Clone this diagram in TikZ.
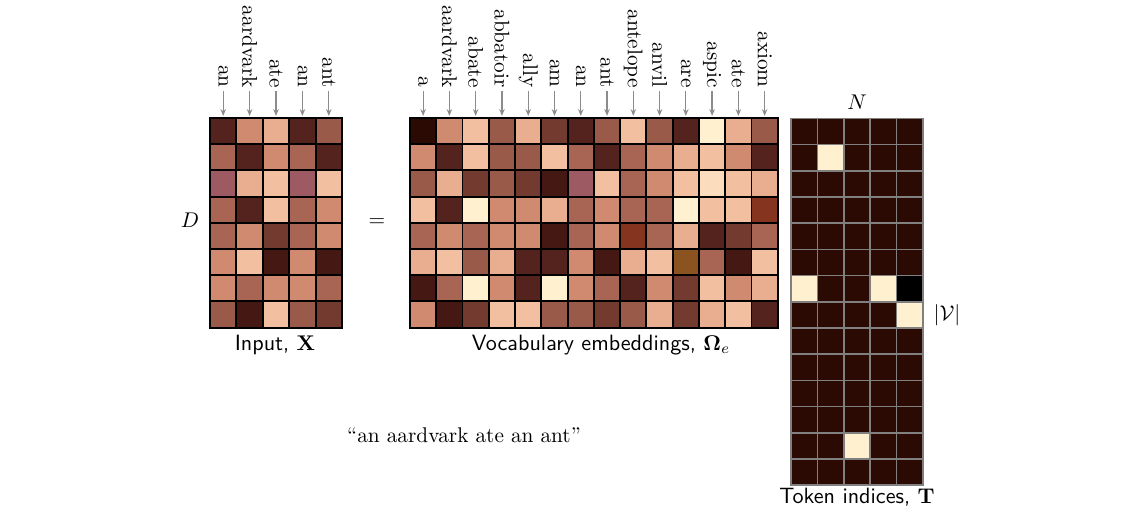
\documentclass[tikz,border=0pt]{standalone}
\usepackage[no-math]{fontspec}
\usepackage{amsmath}
\usetikzlibrary{arrows.meta}
\definecolor{k0}{HTML}{2B0A03}
\definecolor{k1}{HTML}{451814}
\definecolor{k2}{HTML}{55231D}
\definecolor{k3}{HTML}{733A30}
\definecolor{k4}{HTML}{9A5A4A}
\definecolor{k5}{HTML}{A86554}
\definecolor{k6}{HTML}{D08A70}
\definecolor{k7}{HTML}{E9AD8F}
\definecolor{k8}{HTML}{F2C0A0}
\definecolor{k9}{HTML}{FFF0D0}
\definecolor{kp}{HTML}{9E5A62}
\definecolor{kr}{HTML}{84341F}
\definecolor{kg}{HTML}{8B5320}
\definecolor{kl}{HTML}{FBDCBC}
\definecolor{tokgrid}{HTML}{808080}
\definecolor{arrgray}{HTML}{8C8C8C}
\begin{document}
\begin{tikzpicture}[x=0.47pt,y=-0.47pt,
  cell/.style={draw=black,line width=0.9pt,minimum width=12.36pt,minimum height=12.31pt,inner sep=0pt,outer sep=0pt},
  tcell/.style={draw=tokgrid,line width=0.75pt,minimum width=12.4pt,minimum height=12.3pt,inner sep=0pt,outer sep=0pt},
  lab/.style={rotate=-90,anchor=east,inner sep=0pt},
  arr/.style={draw=arrgray,line width=0.6pt,-{Stealth[length=3.2pt,width=2.6pt]},shorten <=1.5pt,shorten >=1pt},
  captext/.style={inner sep=1pt,font=\fontsize{10.4}{12.5}\selectfont}]
\useasboundingbox (0,0) rectangle (1139,510);
% vocabulary embeddings
\foreach \c [count=\i] in {
 {k0,k6,k4,k8,k5,k7,k1,k6},
 {k6,k2,k7,k2,k6,k8,k5,k1},
 {k8,k8,k3,k9,k5,k4,k9,k3},
 {k4,k4,k4,k6,k6,k7,k6,k8},
 {k7,k4,k3,k6,k6,k2,k2,k8},
 {k3,k8,k1,k7,k1,k2,k9,k4},
 {k2,k5,kp,k5,k5,k6,k6,k4},
 {k4,k2,k8,k6,k6,k1,k5,k3},
 {k8,k5,k5,k5,kr,k7,k2,k4},
 {k4,k6,k6,k5,k5,k8,k6,k7},
 {k2,k7,k8,k9,k7,kg,k3,k3},
 {k9,k8,kl,k8,k2,k5,k8,k7},
 {k7,k6,k8,k8,k3,k1,k6,k8},
 {k4,k2,k7,kr,k5,k8,k7,k2}}{
  \foreach \col [count=\j] in \c {
    \node[cell,fill=\col] (v-\j-\i) at ({410+(\i-0.5)*26.27},{118+(\j-0.5)*26.2}) {};
  }
}
% input
\foreach \c [count=\i] in {
 {k2,k5,kp,k5,k5,k6,k6,k4},
 {k6,k2,k7,k2,k6,k8,k5,k1},
 {k7,k6,k8,k8,k3,k1,k6,k8},
 {k2,k5,kp,k5,k5,k6,k6,k4},
 {k4,k2,k8,k6,k6,k1,k5,k3}}{
  \foreach \col [count=\j] in \c {
    \node[cell,fill=\col] (x-\j-\i) at ({210+(\i-0.5)*26.4},{118+(\j-0.5)*26.2}) {};
  }
}
% token indices
\foreach \i in {1,...,5}{
  \foreach \j in {1,...,14}{
    \node[tcell,fill=k0] (t-\j-\i) at ({791+(\i-0.5)*26.4},{118.3+(\j-0.5)*26.2}) {};
  }
}
\foreach \j/\i/\col in {2/2/k9,7/1/k9,7/4/k9,8/5/k9,13/3/k9,7/5/black}{
  \node[tcell,fill=\col] at (t-\j-\i) {};
}
% labels over input
\foreach \w [count=\i] in {an,aardvark,ate,an,ant}{
  \node[lab] (xl-\i) at ({210+(\i-0.5)*26.4},88) {\w};
  \draw[arr] (xl-\i.east) -- (x-1-\i.north);
}
% labels over vocabulary
\foreach \w [count=\i] in {a,aardvark,abate,abbatoir,ally,am,an,ant,antelope,anvil,are,aspic,ate,axiom}{
  \node[lab] (vl-\i) at ({410+(\i-0.5)*26.27},88) {\w};
  \draw[arr] (vl-\i.east) -- (v-1-\i.north);
}
% other text
\node (dlab) at (190,220) {$D$};
\node (eq) at (377,223) {$=$};
\node (nlab) at (857,102) {$N$};
\node (vlab) at (947,315) {$|\mathcal{V}|$};
\node[captext] (capx) at (275,345) {\textsf{Input,} $\mathbf{X}$};
\node[captext] (capv) at (601,345) {\textsf{Vocabulary embeddings,} $\mathbf{\Omega}_e$};
\node[captext] (capt) at (857,497) {\textsf{Token indices,} $\mathbf{T}$};
\node (sent) at (464,435) {``an aardvark ate an ant''};
\end{tikzpicture}
\end{document}
